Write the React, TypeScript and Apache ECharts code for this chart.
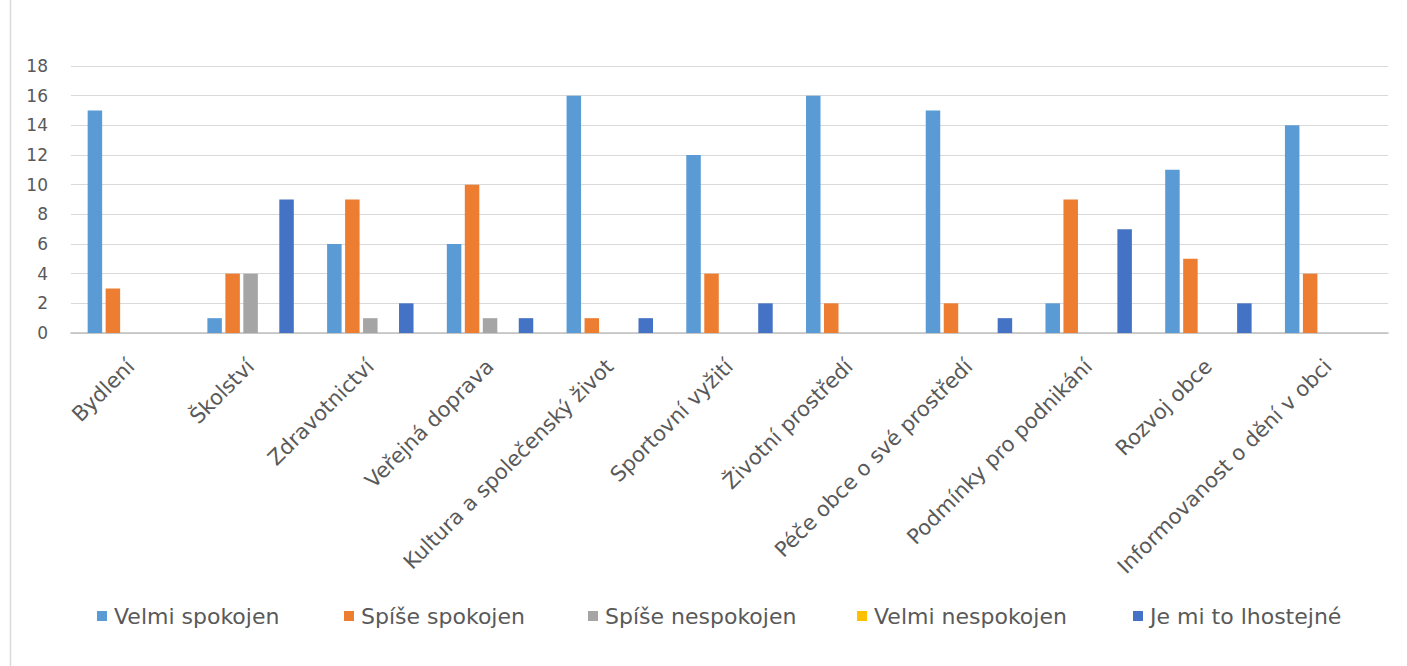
import React, { useEffect, useRef } from "react";
import * as echarts from "echarts";

const categories = [
  "Bydlení",
  "Školství",
  "Zdravotnictví",
  "Veřejná doprava",
  "Kultura a společenský život",
  "Sportovní vyžití",
  "Životní prostředí",
  "Péče obce o své prostředí",
  "Podmínky pro podnikání",
  "Rozvoj obce",
  "Informovanost o dění v obci",
];

const seriesNames = [
  "Velmi spokojen",
  "Spíše spokojen",
  "Spíše nespokojen",
  "Velmi nespokojen",
  "Je mi to lhostejné",
];

const velmiSpokojen = [15, 1, 6, 6, 16, 12, 16, 15, 2, 11, 14];
const spiseSpokojen = [3, 4, 9, 10, 1, 4, 2, 2, 9, 5, 4];
const spiseNespokojen = [0, 4, 1, 1, 0, 0, 0, 0, 0, 0, 0];
const velmiNespokojen = [0, 0, 0, 0, 0, 0, 0, 0, 0, 0, 0];
const lhostejne = [0, 9, 2, 1, 1, 2, 0, 1, 7, 2, 0];

const colors = ["#5B9BD5", "#ED7D31", "#A5A5A5", "#FFC000", "#4472C4"];
const legendLeft = [97, 344, 588, 857, 1133];

export default function App() {
  const ref = useRef<HTMLDivElement>(null);
  useEffect(() => {
    if (!ref.current) return;
    const chart = echarts.init(ref.current, null, { renderer: "svg" });
    const values = [velmiSpokojen, spiseSpokojen, spiseNespokojen, velmiNespokojen, lhostejne];
    const font = "DejaVu Sans";
    chart.setOption({
      animation: false,
      backgroundColor: "#ffffff",
      color: colors,
      grid: { left: 71, right: 19, top: 66, bottom: 333, containLabel: false },
      legend: seriesNames.map((n, i) => ({
        data: [n],
        left: legendLeft[i],
        top: 605,
        padding: 0,
        icon: "rect",
        itemWidth: 10,
        itemHeight: 10,
        textStyle: { fontFamily: font, fontSize: 22, color: "#595959", padding: [0, 0, 0, 2] },
        selectedMode: false,
      })),
      xAxis: {
        type: "category",
        data: categories,
        axisLine: { lineStyle: { color: "#BFBFBF", width: 1.5 } },
        axisTick: { show: false },
        axisLabel: {
          rotate: 45,
          interval: 0,
          margin: 30,
          color: "#595959",
          fontFamily: font,
          fontSize: 21,
        },
      },
      yAxis: {
        type: "value",
        min: 0,
        max: 18,
        interval: 2,
        axisLine: { show: false },
        axisTick: { show: false },
        splitLine: { lineStyle: { color: "#D9D9D9", width: 1 } },
        axisLabel: { color: "#595959", fontFamily: font, fontSize: 17, margin: 23 },
      },
      graphic: [
        {
          type: "line",
          shape: { x1: 10.5, y1: 0, x2: 10.5, y2: 666 },
          style: { stroke: "#D9D9D9", lineWidth: 1.5 },
        },
      ],
      series: seriesNames.map((n, i) => ({
        name: n,
        type: "bar",
        data: values[i],
        barWidth: 14.5,
        barGap: "24%",
        itemStyle: { color: colors[i] },
      })),
    });
    return () => chart.dispose();
  }, []);
  return (
    <div
      ref={ref}
      style={{ position: "fixed", left: 0, top: 0, width: 1407, height: 666 }}
    />
  );
}
